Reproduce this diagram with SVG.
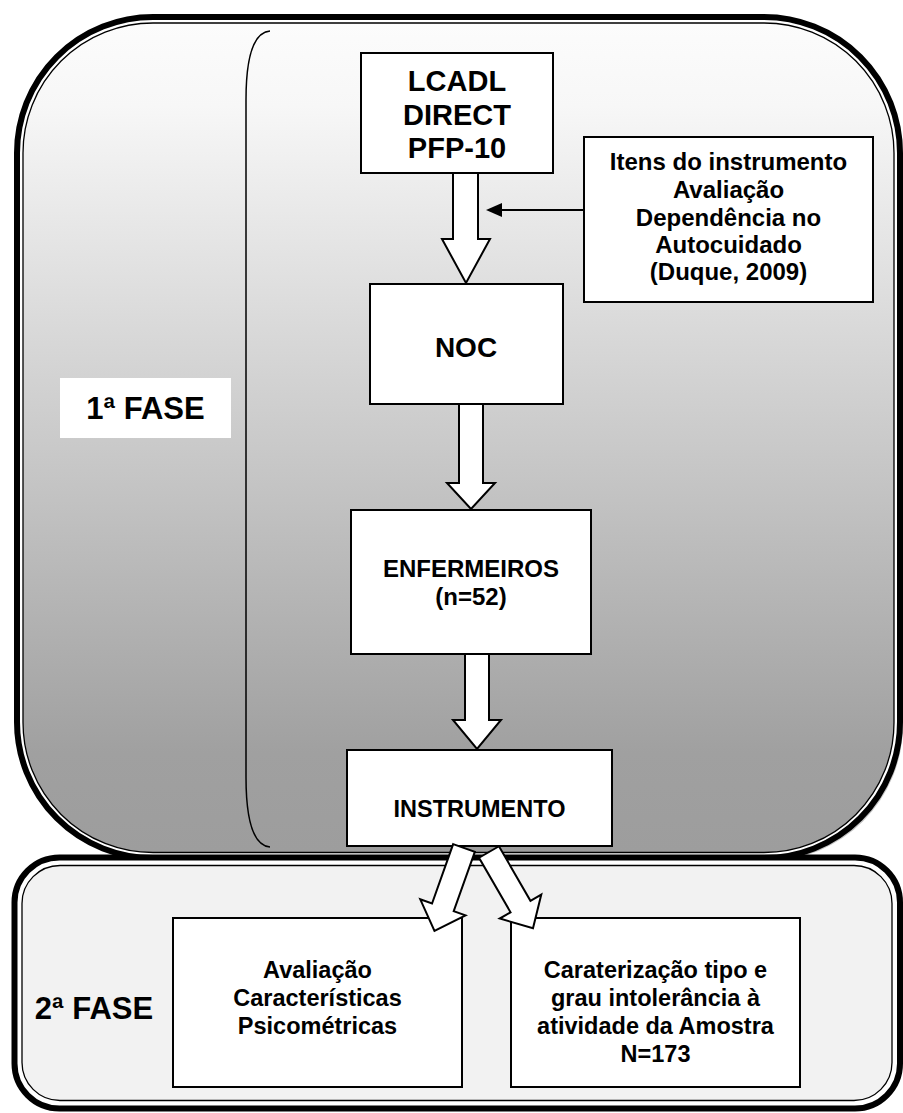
<svg xmlns="http://www.w3.org/2000/svg" width="903" height="1113" viewBox="0 0 903 1113">
<defs>
<linearGradient id="g1" x1="0" y1="0" x2="0" y2="1">
<stop offset="0" stop-color="#fcfcfc"/>
<stop offset="0.1" stop-color="#f7f7f7"/>
<stop offset="0.88" stop-color="#a0a0a0"/>
<stop offset="1" stop-color="#9d9d9d"/>
</linearGradient>
<style>
.t{font-family:"Liberation Sans",Arial,sans-serif;font-weight:bold;fill:#000;text-anchor:middle}
.box{fill:#fff;stroke:#000;stroke-width:2}
.arr{fill:#fff;stroke:#000;stroke-width:2;stroke-linejoin:miter}
.outer{fill:#fff;stroke:#000;stroke-width:6}
.inner{stroke:#000;stroke-width:1.3}
</style>
</defs>
<g id="phase1">
<rect x="20" y="20" width="883" height="841" rx="136" fill="#c4c4c4"/>
<rect class="outer" x="17" y="17" width="883" height="841" rx="136"/>
<rect class="inner" x="23" y="23" width="871" height="829.5" rx="130" fill="url(#g1)"/>
<path d="M270,31 Q246,33 246,100 L246,777 Q246,845 270,847" fill="none" stroke="#000" stroke-width="1.5"/>
</g>
<g id="label1">
<rect x="60" y="378" width="171" height="60" fill="#fff"/>
<text class="t" x="145.5" y="419" font-size="31">1ª FASE</text>
</g>
<g id="phase2">
<rect class="outer" x="14.5" y="857.5" width="885.5" height="251" rx="45"/>
<rect class="inner" x="22" y="865.5" width="870" height="235" rx="38" fill="#f2f2f2"/>
<text class="t" x="94" y="1019" font-size="31">2ª FASE</text>
</g>
<g id="lcadl">
<rect class="box" x="361" y="53" width="192" height="120"/>
<text class="t" x="457" y="91" font-size="29">LCADL</text>
<text class="t" x="457" y="125" font-size="29">DIRECT</text>
<text class="t" x="457" y="158" font-size="29">PFP-10</text>
</g>
<g id="itens">
<rect class="box" x="584" y="137" width="289" height="165"/>
<text class="t" x="728.5" y="170" font-size="24">Itens do instrumento</text>
<text class="t" x="728.5" y="198" font-size="24">Avaliação</text>
<text class="t" x="728.5" y="226" font-size="24">Dependência no</text>
<text class="t" x="728.5" y="253" font-size="24">Autocuidado</text>
<text class="t" x="728.5" y="280" font-size="24">(Duque, 2009)</text>
</g>
<g id="noc">
<rect class="box" x="370" y="284" width="193" height="120"/>
<text class="t" x="466" y="357" font-size="28">NOC</text>
</g>
<g id="enfermeiros">
<rect class="box" x="351" y="510" width="240" height="144"/>
<text class="t" x="471" y="577" font-size="24">ENFERMEIROS</text>
<text class="t" x="471" y="605" font-size="24">(n=52)</text>
</g>
<g id="instrumento">
<rect class="box" x="347" y="750" width="265" height="96"/>
<text class="t" x="479.5" y="817" font-size="23.5">INSTRUMENTO</text>
</g>
<g id="avaliacao">
<rect class="box" x="173" y="918" width="289" height="169"/>
<text class="t" x="317.5" y="978" font-size="23.5">Avaliação</text>
<text class="t" x="317.5" y="1006" font-size="23.5">Características</text>
<text class="t" x="317.5" y="1034" font-size="23.5">Psicométricas</text>
</g>
<g id="caraterizacao">
<rect class="box" x="511" y="918" width="289" height="169"/>
<text class="t" x="655.5" y="978" font-size="23.5">Caraterização tipo e</text>
<text class="t" x="655.5" y="1006" font-size="23.5">grau intolerância à</text>
<text class="t" x="655.5" y="1034" font-size="23.5">atividade da Amostra</text>
<text class="t" x="655.5" y="1062" font-size="23.5">N=173</text>
</g>
<g id="connectors">
<polygon class="arr" points="453,173 478,173 478,239 490,239 466,283 442,239 453,239"/>
<polygon class="arr" points="459,404 483,404 483,483 495,483 471,509 447,483 459,483"/>
<polygon class="arr" points="465,654 489,654 489,720 501,720 477,749 453,720 465,720"/>
<line x1="584" y1="210" x2="500" y2="210" stroke="#000" stroke-width="2"/>
<polygon points="486,210 502,203 502,217" fill="#000"/>
<polygon class="arr" transform="translate(464,848) rotate(19.6)" points="-11.5,0 11.5,0 11.5,63 24,63 0,88 -24,63 -11.5,63"/>
<polygon class="arr" transform="translate(489,852) rotate(-30)" points="-11.5,0 11.5,0 11.5,63 24,63 0,88 -24,63 -11.5,63"/>
</g>
</svg>
